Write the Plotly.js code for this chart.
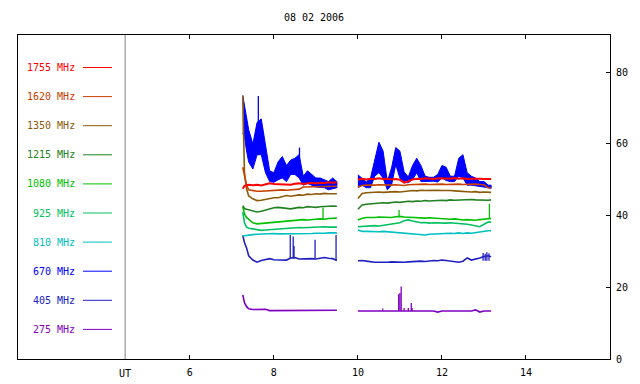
<!DOCTYPE html>
<html><head><meta charset="utf-8">
<script src="https://cdn.plot.ly/plotly-3.0.1.min.js"></script>
<style>html,body{margin:0;padding:0;background:#fff}</style>
</head><body><div id="chart" style="width:640px;height:384px"></div>
<script>
// ---- data ----
const timeUT = [7.26,7.3,7.35,7.4,7.5,7.6,7.7,7.8,7.9,8.0,8.1,8.2,8.3,8.4,8.5,8.6,8.7,8.8,8.9,9.0,9.1,9.2,9.3,9.4,9.5,
 9.75,
 10.0,10.1,10.2,10.3,10.4,10.5,10.6,10.7,10.8,10.9,11.0,11.1,11.2,11.3,11.4,11.5,11.6,11.7,11.8,11.9,12.0,12.1,12.2,12.3,12.4,12.5,12.6,12.7,12.8,12.9,13.0,13.1,13.17];

const f1755 = [47.5,48.3,48.5,48.6,48.5,48.6,48.4,48.7,49.0,48.8,48.7,48.8,48.7,48.6,48.9,49.0,48.8,49.0,49.2,49.0,49.2,49.1,49.3,49.2,49.3,
 null,
 50.0,50.3,50.1,50.3,50.2,50.4,50.2,50.3,50.1,50.2,50.0,49.2,49.6,50.1,50.3,50.2,50.4,50.3,50.2,50.4,50.3,50.2,50.3,50.5,50.3,50.4,50.2,50.3,50.4,50.3,50.2,50.3,50.2];
const f1620 = [53.5,51.0,48.5,47.2,46.9,46.8,46.8,46.9,47.0,47.1,47.0,47.2,47.1,47.2,47.3,47.4,48.0,48.0,48.1,48.0,48.1,48.0,48.2,48.1,48.2,
 null,
 48.0,48.4,48.5,48.4,48.5,48.6,48.5,48.4,48.5,48.6,48.5,48.4,48.6,48.7,48.8,48.7,48.8,48.7,48.8,48.9,48.8,48.7,48.8,48.9,48.8,48.7,48.8,48.7,48.8,48.7,48.6,47.8,47.7];
const f1350 = [73.5,52.0,47.5,45.5,44.7,44.2,44.3,44.6,44.8,45.0,45.0,45.3,45.6,45.4,45.6,45.8,45.7,46.0,45.9,46.1,46.0,46.2,46.1,46.2,46.1,
 null,
 44.8,46.2,46.4,46.5,46.4,46.6,46.5,46.6,46.5,46.7,46.6,46.8,46.9,47.0,46.9,47.1,47.0,47.1,47.2,47.1,47.0,47.1,47.0,46.9,46.8,46.9,46.7,46.6,46.7,46.5,46.6,46.5,46.5];
const f1215 = [42.8,42.0,41.8,41.6,41.3,41.0,41.2,41.5,42.0,42.2,42.3,42.2,42.0,41.9,42.1,42.3,42.2,42.5,42.4,42.3,42.5,42.6,42.5,42.7,42.6,
 null,
 41.8,43.0,43.2,43.3,43.5,43.4,43.6,43.5,43.7,43.8,43.7,43.9,44.0,43.9,44.1,44.0,44.2,44.1,44.2,44.4,44.3,44.2,44.4,44.3,44.4,44.3,44.4,44.5,44.4,44.3,44.4,44.3,44.4];
const f1080 = [42.5,40.5,39.5,39.0,38.0,37.7,37.8,37.9,38.0,38.2,38.3,38.4,38.6,38.5,38.7,38.8,38.9,38.8,39.0,39.0,39.1,39.0,39.2,39.2,39.3,
 null,
 38.8,39.3,39.5,39.4,39.5,39.6,39.5,39.6,39.5,39.7,39.8,39.6,39.5,39.4,39.5,39.4,39.3,39.4,39.3,39.2,39.3,39.2,39.0,39.1,38.9,38.8,38.9,38.8,38.7,38.9,39.0,39.1,39.2];
const f925 = [41.0,38.0,36.8,36.5,36.3,36.0,35.9,36.0,36.1,36.2,36.3,36.2,36.4,36.5,36.6,36.7,36.6,36.7,36.8,36.7,36.8,36.9,36.8,36.9,36.8,
 null,
 36.9,37.0,37.1,37.0,37.2,37.1,37.3,37.5,37.6,37.7,38.0,38.6,38.8,38.5,38.2,38.0,38.1,37.9,38.0,37.9,38.0,37.9,38.0,37.9,37.8,37.9,37.6,37.4,37.2,36.9,37.6,38.2,38.2];
const f810 = [34.3,34.4,34.5,34.6,34.7,34.8,34.9,35.0,35.1,35.0,34.9,34.9,34.8,34.9,35.0,34.9,34.8,34.9,35.0,35.1,35.0,35.1,35.2,35.1,35.2,
 null,
 36.0,35.6,35.6,35.5,35.6,35.5,35.6,35.5,35.4,35.3,35.2,35.0,34.8,34.7,34.6,34.7,34.6,34.8,34.9,35.0,35.1,35.0,35.1,35.0,35.2,35.0,35.2,35.1,35.3,35.5,35.7,35.8,35.8];
// 670 MHz is very noisy: upper and lower envelope of the fluctuation
const f670High = [73.5,71.0,68.0,64.0,60.0,66.0,67.0,60.0,52.5,52.0,55.0,56.5,54.0,55.5,56.0,57.0,51.0,52.5,51.5,50.5,50.5,50.0,49.5,50.5,49.5,
 null,
 51.4,50.5,49.4,50.5,56.0,60.5,58.0,49.5,53.3,59.0,58.0,52.2,50.8,54.0,56.0,54.0,51.0,50.7,50.7,51.5,54.0,53.5,51.0,51.0,56.0,57.0,52.0,51.0,50.5,49.5,49.5,48.5,48.5];
const f670Low = [63.0,62.0,58.0,55.0,53.0,57.0,57.0,52.0,49.5,49.3,50.0,50.5,49.5,51.5,51.5,50.5,48.5,49.0,48.5,48.0,48.0,47.8,47.2,47.5,47.8,
 null,
 47.8,48.5,47.8,47.8,51.0,52.0,50.5,47.2,48.5,54.2,50.5,49.2,49.2,50.0,52.0,49.5,49.5,49.5,49.6,49.4,50.5,49.8,49.5,49.5,51.0,50.5,48.5,48.5,48.5,48.3,48.0,47.8,47.6];
const f405 = [34.5,32.5,31.0,28.8,27.6,27.0,27.5,27.8,28.0,27.7,27.6,27.7,27.6,28.2,28.3,27.9,28.0,27.9,28.0,27.9,28.2,28.3,28.1,28.0,27.5,
 null,
 27.4,27.5,27.3,27.1,27.0,27.0,26.9,27.0,27.1,27.0,27.1,27.0,27.1,27.2,27.1,27.3,27.2,27.4,27.5,27.4,27.6,27.5,27.3,27.2,27.0,27.3,28.2,27.6,27.8,28.2,28.6,28.8,28.5];
const f275 = [17.9,15.7,14.6,14.0,13.8,13.8,14.0,13.9,13.5,13.5,13.4,13.5,13.4,13.5,13.4,13.5,13.5,13.4,13.5,13.5,13.4,13.4,13.5,13.4,13.6,
 null,
 13.4,13.4,13.5,13.4,13.4,13.4,13.4,13.5,13.4,13.4,13.4,13.4,13.4,13.4,13.4,13.4,13.4,13.4,13.4,13.1,13.4,13.4,13.4,13.4,13.4,13.4,13.4,13.4,13.7,13.1,13.4,13.4,13.4];

// short bursts (time, base level, peak level)
const burst670T = [7.63, 8.61];
const burst670Base = [57.0, 51.0];
const burst670Peak = [73.4, 59.0];
const burst1080T = [9.17, 10.98, 13.13];
const burst1080Base = [39.1, 39.7, 39.1];
const burst1080Peak = [42.2, 41.6, 43.3];
const burst405T = [8.39, 8.46, 8.48, 8.98, 9.48, 12.98, 13.03, 13.07, 13.12];
const burst405Base = [28.0, 28.0, 28.0, 28.0, 27.6, 27.4, 27.4, 27.4, 27.4];
const burst405Peak = [34.6, 34.2, 31.5, 33.3, 34.6, 29.6, 29.4, 29.8, 29.5];
const burst275T = [10.59, 10.97, 11.0, 11.03, 11.1, 11.2, 11.27, 11.29];
const burst275Base = [13.4, 13.4, 13.4, 13.4, 13.4, 13.4, 13.4, 13.4];
const burst275Peak = [14.1, 18.1, 18.4, 20.2, 14.2, 14.2, 15.6, 14.2];

const freqLabels = ['1755 MHz','1620 MHz','1350 MHz','1215 MHz','1080 MHz','925 MHz','810 MHz','670 MHz','405 MHz','275 MHz'];
const xTicks = [6, 8, 10, 12, 14];
const yTicks = [0, 20, 40, 60, 80];
const chartTitle = '08 02 2006';

// ---- styles ----
const colors = {
  '1755 MHz':'#ff0000','1620 MHz':'#c84000','1350 MHz':'#8c5a08','1215 MHz':'#228022',
  '1080 MHz':'#00c000','925 MHz':'#00c060','810 MHz':'#00c0c0','670 MHz':'#0000ff',
  '405 MHz':'#2020c0','275 MHz':'#8000c0'
};
const FONT = 'DejaVu Sans Mono, monospace';

function lineTrace(y, name, w){
  return {type:'scatter', mode:'lines', x:timeUT, y:y, name:name, connectgaps:false,
    line:{color:colors[name], width:w||1.6}, hoverinfo:'skip'};
}
function burstTrace(t, base, peak, name){
  const x=[], y=[];
  for(let i=0;i<t.length;i++){ x.push(t[i],t[i],null); y.push(base[i],peak[i],null); }
  return {type:'scatter', mode:'lines', x:x, y:y, line:{color:colors[name], width:1.3}, hoverinfo:'skip'};
}
function bandTraces(hi, lo, name){
  const out=[]; let cur=null;
  for(let i=0;i<timeUT.length;i++){
    if(hi[i]==null){cur=null;continue;}
    if(!cur){cur={t:[],h:[],l:[]};out.push(cur);}
    cur.t.push(timeUT[i]); cur.h.push(hi[i]); cur.l.push(lo[i]);
  }
  return out.map(s=>({type:'scatter', mode:'lines',
    x:s.t.concat(s.t.slice().reverse()), y:s.h.concat(s.l.slice().reverse()),
    fill:'toself', fillcolor:colors[name], line:{color:colors[name], width:1}, hoverinfo:'skip'}));
}

const traces = [].concat(
  bandTraces(f670High, f670Low, '670 MHz'),
  [burstTrace(burst670T, burst670Base, burst670Peak, '670 MHz'),
   lineTrace(f275,'275 MHz'), burstTrace(burst275T, burst275Base, burst275Peak, '275 MHz'),
   lineTrace(f405,'405 MHz'), burstTrace(burst405T, burst405Base, burst405Peak, '405 MHz'),
   lineTrace(f810,'810 MHz'), lineTrace(f925,'925 MHz'),
   lineTrace(f1080,'1080 MHz'), burstTrace(burst1080T, burst1080Base, burst1080Peak, '1080 MHz'),
   lineTrace(f1215,'1215 MHz'), lineTrace(f1350,'1350 MHz'), lineTrace(f1620,'1620 MHz'),
   lineTrace(f1755,'1755 MHz', 2)]
);

// legend drawn at left inside frame
const plotL=18, plotR=610, plotT=35, plotB=359;
const pw=plotR-plotL, ph=plotB-plotT;
const shapes=[{type:'line', xref:'x', yref:'paper', x0:4.46, x1:4.46, y0:0, y1:1, line:{color:'#808080', width:1}}];
const annotations=[{text:'UT', xref:'x', yref:'paper', x:4.46, y:0, yanchor:'top', xanchor:'center', yshift:-7,
  showarrow:false, font:{family:FONT, size:10, color:'#000'}}];
freqLabels.forEach((lab,i)=>{
  const py = 67.5 + 29.1*i;
  const yp = (plotB-py)/ph;
  annotations.push({text:lab, xref:'paper', yref:'paper', x:(77-plotL)/pw, y:yp, xanchor:'right', yanchor:'middle',
    showarrow:false, font:{family:FONT, size:10, color:colors[lab]}});
  shapes.push({type:'line', xref:'paper', yref:'paper', x0:(83-plotL)/pw, x1:(112-plotL)/pw, y0:yp, y1:yp,
    line:{color:colors[lab], width:1}});
});

const layout = {
  width:640, height:384,
  margin:{l:plotL, r:640-plotR, t:plotT, b:384-plotB, pad:0},
  paper_bgcolor:'#ffffff', plot_bgcolor:'#ffffff',
  showlegend:false,
  title:{text:chartTitle, x:0.5, xref:'paper', xanchor:'center', y:1-17/384, yref:'container', yanchor:'middle',
    font:{family:FONT, size:10, color:'#000'}},
  xaxis:{range:[1.91,16.0], tickvals:xTicks, ticks:'inside', ticklen:4, tickcolor:'#000', tickwidth:1,
    ticklabelstandoff:4,
    showline:true, linecolor:'#000', linewidth:1, mirror:'ticks', showgrid:false, zeroline:false,
    tickfont:{family:FONT, size:10, color:'#000'}},
  yaxis:{range:[0,90.4], side:'right', tickvals:yTicks, ticks:'inside', ticklen:4, tickcolor:'#000', tickwidth:1,
    ticklabelstandoff:3,
    showline:true, linecolor:'#000', linewidth:1, mirror:true, showgrid:false, zeroline:false,
    tickfont:{family:FONT, size:10, color:'#000'}},
  shapes:shapes, annotations:annotations
};
Plotly.newPlot('chart', traces, layout, {staticPlot:true, displayModeBar:false});
</script></body></html>
